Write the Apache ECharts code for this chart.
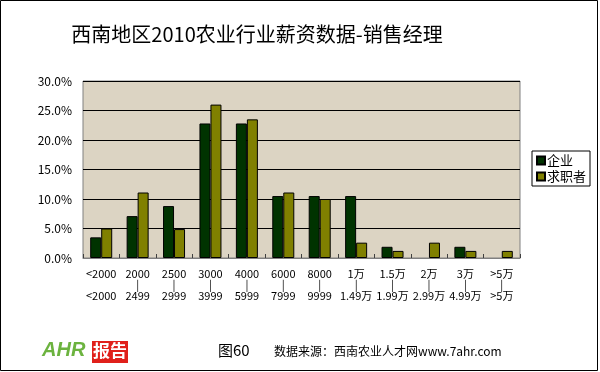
<!DOCTYPE html>
<html><head><meta charset="utf-8">
<script src="https://cdn.jsdelivr.net/npm/echarts@6/dist/echarts.min.js"></script>
<style>html,body{margin:0;padding:0;background:#fff}#c{width:600px;height:372px}</style>
</head><body><div id="c"></div>
<script>
const categories = ['<2000\n\n<2000','2000\n|\n2499','2500\n|\n2999','3000\n|\n3999','4000\n|\n5999','6000\n|\n7999','8000\n|\n9999','1万\n|\n1.49万','1.5万\n|\n1.99万','2万\n|\n2.99万','3万\n|\n4.99万','>5万\n|\n>5万'];
const enterprise = [3.5, 7.1, 8.8, 22.8, 22.8, 10.5, 10.5, 10.5, 1.9, 0, 1.9, 0];
const seekers = [5.0, 11.1, 4.9, 26.0, 23.5, 11.1, 10.0, 2.6, 1.2, 2.6, 1.2, 1.2];
const yTicks = {min: 0, max: 30, interval: 5};

const font = "'Noto Sans CJK SC', sans-serif";
const noZero = arr => arr.map(v => v === 0 ? '-' : v);
const chart = echarts.init(document.getElementById('c'), null, {renderer: 'canvas'});
chart.setOption({
  backgroundColor: '#fff',
  animation: false,
  title: {
    text: '西南地区2010农业行业薪资数据-销售经理',
    left: 252, top: 19, textAlign: 'center',
    textStyle: {fontFamily: font, fontSize: 20, fontWeight: 'normal', color: '#000'}
  },
  legend: {
    orient: 'vertical', left: 532, top: 151,
    width: 57, height: 36,
    padding: [3, 4, 3, 4],
    itemWidth: 8, itemHeight: 8, itemGap: 3,
    borderColor: '#000', borderWidth: 1, backgroundColor: '#fff',
    textStyle: {fontFamily: font, fontSize: 13, color: '#000', padding: [0, 0, 0, -3]},
    data: [{name: '企业', icon: 'rect'}, {name: '求职者', icon: 'rect'}]
  },
  grid: {left: 83, right: 80, top: 81, bottom: 114, show: true, backgroundColor: '#DCD4C3', borderColor: '#808080', borderWidth: 1},
  xAxis: {
    type: 'category', data: categories,
    axisLine: {lineStyle: {color: '#808080'}},
    axisTick: {show: true, inside: true, length: 4, lineStyle: {color: '#404040'}},
    axisLabel: {interval: 0, margin: 10, fontFamily: font, fontSize: 11, lineHeight: 11, color: '#000'}
  },
  yAxis: {
    type: 'value', min: yTicks.min, max: yTicks.max, interval: yTicks.interval,
    axisLine: {show: false}, axisTick: {show: false},
    splitLine: {lineStyle: {color: '#000', width: 1}},
    axisLabel: {margin: 11, fontFamily: font, fontSize: 12, color: '#000', formatter: v => v.toFixed(1) + '%'}
  },
  series: [
    {name: '企业', type: 'bar', data: noZero(enterprise), barWidth: 11, barGap: '0%',
     itemStyle: {color: '#003300', borderColor: '#000', borderWidth: 1}},
    {name: '求职者', type: 'bar', data: noZero(seekers), barWidth: 11,
     itemStyle: {color: '#808000', borderColor: '#000', borderWidth: 1}}
  ],
  graphic: [
    {type: 'rect', shape: {x: 0.5, y: 0.5, width: 597, height: 370}, style: {fill: 'none', stroke: '#000', lineWidth: 1}, silent: true},
    {type: 'text', left: 42, top: 340, style: {text: 'AHR', fill: '#6CB33F', font: 'italic bold 20px Liberation Sans, sans-serif'}},
    {type: 'rect', shape: {x: 92, y: 341, width: 36, height: 22}, style: {fill: '#E0201B'}},
    {type: 'text', left: 93, top: 342, style: {text: '报告', fill: '#fff', font: "bold 17px 'Noto Sans CJK SC', sans-serif"}},
    {type: 'text', left: 218, top: 343, style: {text: '图60', fill: '#000', font: "15px 'Noto Sans CJK SC', sans-serif"}},
    {type: 'text', left: 274, top: 345, style: {text: '数据来源：西南农业人才网www.7ahr.com', fill: '#000', font: "12px 'Noto Sans CJK SC', sans-serif"}}
  ]
});
</script></body></html>
